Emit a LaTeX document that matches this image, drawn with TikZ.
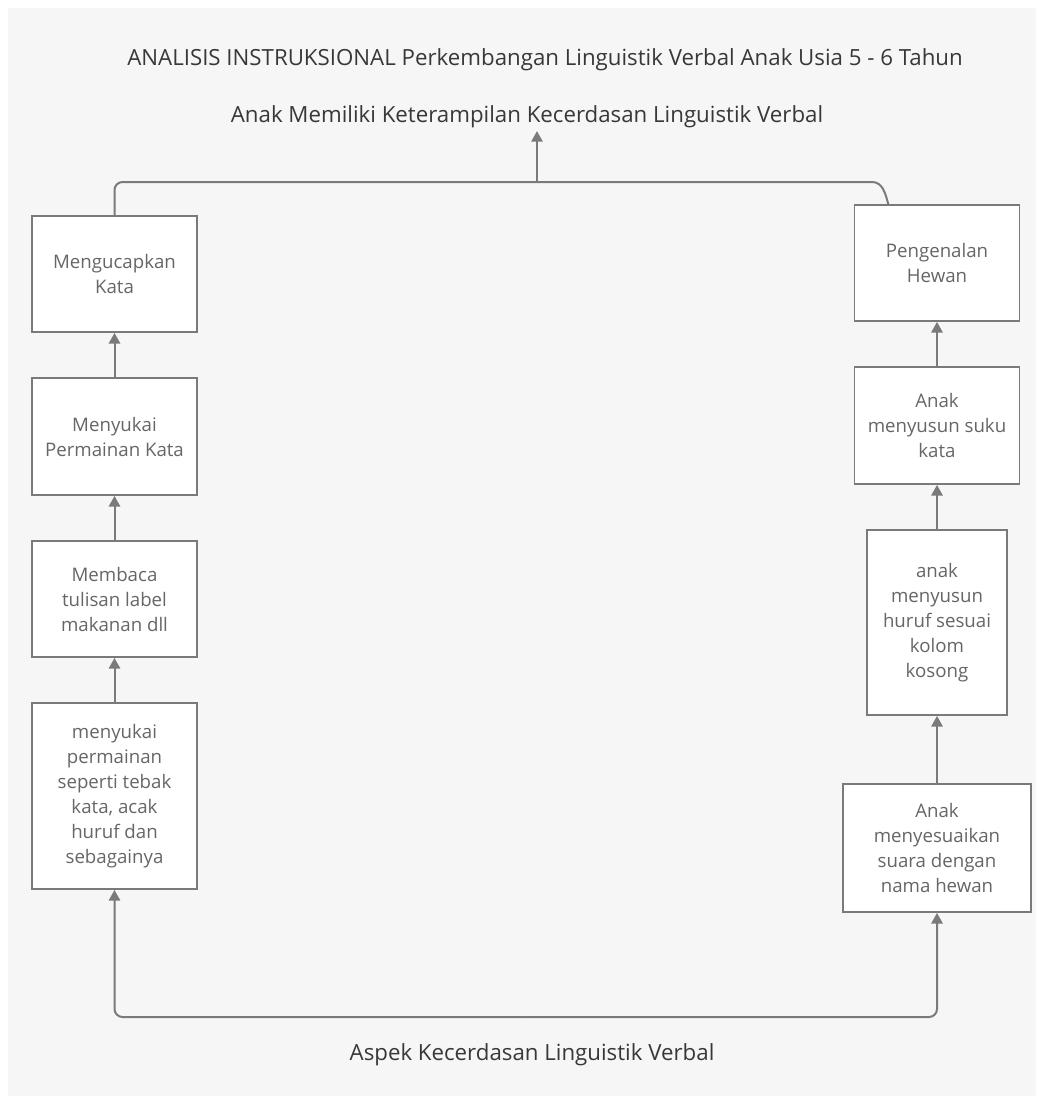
\documentclass[tikz,border=0pt]{standalone}
\usepackage{fontspec}
\setmainfont{Open Sans}
\usetikzlibrary{arrows.meta,positioning}
\definecolor{paneltone}{HTML}{F6F6F6}
\definecolor{edgegrey}{HTML}{7A7A7A}
\definecolor{boxtext}{HTML}{666666}
\definecolor{headtext}{HTML}{383838}

\begin{document}
\begin{tikzpicture}[
      x=0.75pt, y=-0.75pt,
      node distance=33.1pt,
      stepbox/.style={draw=edgegrey, fill=white, line width=1.4pt, align=center, inner sep=0pt, font=\fontsize{14}{18.75}\selectfont, text=boxtext},
      heading/.style={font=\fontsize{16.7}{20}\selectfont, text=headtext, inner sep=2pt},
      link/.style={draw=edgegrey, line width=1.5pt, rounded corners=6pt},
      arr/.style={link, -{Triangle[length=8pt, width=8.5pt]}}
    ]
      \useasboundingbox[fill=white] (0,0) rectangle (1042,1102);
      \fill[paneltone] (8,8) rectangle (1036,1096);

      % headings
      \node[heading] (judul) at (545,60) {ANALISIS INSTRUKSIONAL Perkembangan Linguistik Verbal Anak Usia 5 - 6 Tahun};
      \node[heading] (tujuan) at (527,117) {Anak Memiliki Keterampilan Kecerdasan Linguistik Verbal};
      \node[heading] (aspek) at (532,1055) {Aspek Kecerdasan Linguistik Verbal};

      % left column
      \node[stepbox, minimum width=123.75pt, minimum height=139.5pt] (sukaMain) at (114.5,796) {
        menyukai\\ permainan\\ seperti tebak\\ kata, acak\\ huruf dan\\ sebagainya
      };
      \node[stepbox, minimum width=123.75pt, minimum height=87pt, above=of sukaMain] (bacaLabel) {
        Membaca\\ tulisan label\\ makanan dll
      };
      \node[stepbox, minimum width=123.75pt, minimum height=87.75pt, above=of bacaLabel] (sukaKata) {
        Menyukai\\ Permainan Kata
      };
      \node[stepbox, minimum width=123.75pt, minimum height=87pt, above=of sukaKata] (ucapKata) {
        Mengucapkan\\ Kata
      };

      % right column
      \node[stepbox, minimum width=141pt, minimum height=96pt] (sesuaiSuara) at (937,848) {
        Anak\\ menyesuaikan\\ suara dengan\\ nama hewan
      };
      \node[stepbox, minimum width=105pt, minimum height=138.75pt, above=50.35pt of sesuaiSuara] (susunHuruf) {
        anak\\ menyusun\\ huruf sesuai\\ kolom\\ kosong
      };
      \node[stepbox, minimum width=123.75pt, minimum height=87.75pt, above=of susunHuruf] (susunSuku) {
        Anak\\ menyusun suku\\ kata
      };
      \node[stepbox, minimum width=123.75pt, minimum height=87pt, above=of susunSuku] (kenalHewan) {
        Pengenalan\\ Hewan
      };

      \draw[arr] (sukaMain) -- (bacaLabel);
      \draw[arr] (bacaLabel) -- (sukaKata);
      \draw[arr] (sukaKata) -- (ucapKata);
      \draw[arr] (sesuaiSuara) -- (susunHuruf);
      \draw[arr] (susunHuruf) -- (susunSuku);
      \draw[arr] (susunSuku) -- (kenalHewan);

      % top join
      \coordinate (atas) at (537,182);
      \draw[link] (ucapKata.north) |- (atas);
      \draw[link, rounded corners=0pt] ([xshift=26pt]kenalHewan.north west) to[out=105, in=0] (872,182) -- (atas);
      \draw[arr] (atas) -- (atas |- tujuan.south);

      % bottom join
      \coordinate (bawah) at (525,1017);
      \draw[arr] (bawah) -| (sukaMain.south);
      \draw[arr] (bawah) -| (sesuaiSuara.south);
    \end{tikzpicture}
\end{document}
